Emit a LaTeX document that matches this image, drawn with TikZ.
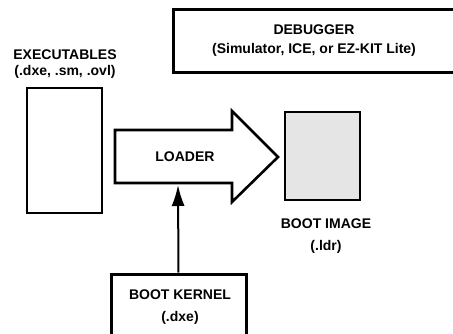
\documentclass[tikz,border=0pt]{standalone}
\usepackage{fontspec}
\setmainfont{Liberation Sans}
\usetikzlibrary{arrows.meta}
\tikzset{
  lbl/.style={font=\fontsize{14}{16}\selectfont\bfseries, align=center, inner sep=0pt},
  thickbox/.style={draw, line width=3pt, inner sep=0pt},
  thinbox/.style={draw, line width=2pt, inner sep=0pt},
}
\begin{document}
\begin{tikzpicture}[x=1pt,y=-1pt]
\useasboundingbox (0,0) rectangle (453,334);
% debugger
\node[thickbox, minimum width=283pt, minimum height=63pt] (dbg) at (314.5,41.5) {};
\node[lbl, font=\fontsize{14}{19}\selectfont\bfseries] (dbgt) at (314,40.5) {DEBUGGER\\(Simulator, ICE, or EZ-KIT Lite)};
% executables
\node[lbl] (exect) at (65,64) {EXECUTABLES\\(.dxe, .sm, .ovl)};
\node[thinbox, minimum width=75pt, minimum height=125pt] (exec) at (64.5,150.5) {};
% loader arrow
\draw[line width=2.6pt, line join=miter] (115,130) -- (232,130) -- (232,111) -- (278,157) -- (232,202) -- (232,183) -- (115,183) -- cycle;
\coordinate (ldbot) at (178,185);
\node[lbl] (loader) at (185,157) {LOADER};
% boot image
\node[thinbox, fill=gray!20, minimum width=75pt, minimum height=88pt] (img) at (322.5,156) {};
\node[lbl, font=\fontsize{14}{22}\selectfont\bfseries] (imgt) at (326,236) {BOOT IMAGE\\(.ldr)};
% boot kernel
\node[thickbox, minimum width=135pt, minimum height=68pt] (kern) at (178.5,308) {};
\node[lbl, font=\fontsize{14}{22}\selectfont\bfseries] (kernt) at (180,307) {BOOT KERNEL\\(.dxe)};
\draw[line width=2pt, -{Latex[length=21pt,width=13pt]}] (kern.north) -- (ldbot);
\end{tikzpicture}
\end{document}
